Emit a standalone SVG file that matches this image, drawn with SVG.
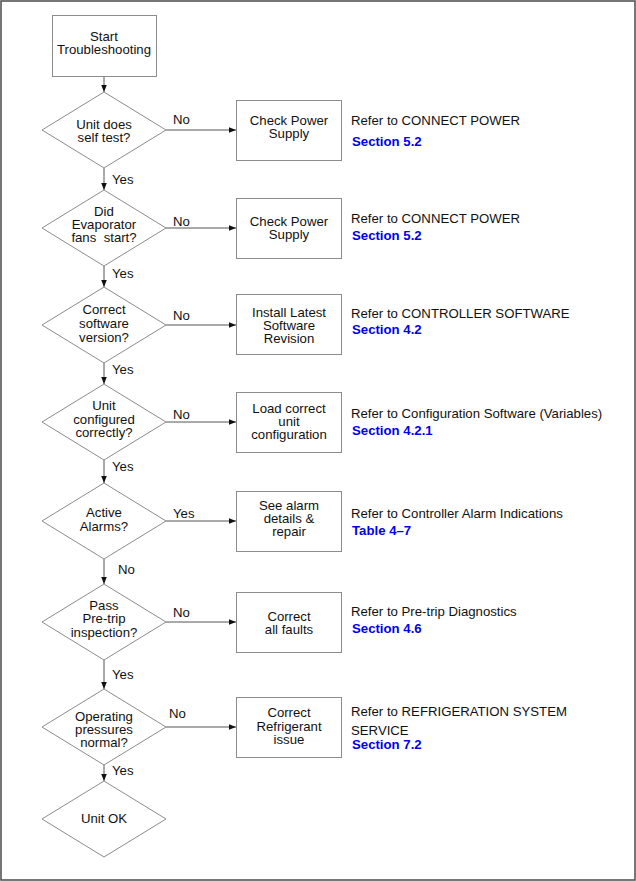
<svg xmlns="http://www.w3.org/2000/svg" width="636" height="881" viewBox="0 0 636 881">
<defs>
<style>
.shape{fill:#fff;stroke:#8c8c8c;stroke-width:1}
.conn{fill:none;stroke:#555;stroke-width:1}
text{font-family:"Liberation Sans",Arial,sans-serif;font-size:13.2px;fill:#111}
.c{text-anchor:middle}
.ref{fill:#0000f0;font-weight:bold}
</style>
<marker id="ah" viewBox="0 0 10 10" refX="10" refY="5" markerWidth="7" markerHeight="7" markerUnits="userSpaceOnUse" orient="auto">
<path d="M0,1 L10,5 L0,9 Z" fill="#111"/>
</marker>
</defs>
<rect x="0" y="0" width="636" height="881" fill="#fff"/>
<rect x="1" y="1" width="634" height="879" fill="none" stroke="#555" stroke-width="1.6"/>

<g id="connectors">
<line class="conn" x1="104" y1="76" x2="104" y2="92" marker-end="url(#ah)"/>
<line class="conn" x1="104" y1="168" x2="104" y2="190" marker-end="url(#ah)"/>
<line class="conn" x1="104" y1="266" x2="104" y2="287" marker-end="url(#ah)"/>
<line class="conn" x1="104" y1="363" x2="104" y2="384" marker-end="url(#ah)"/>
<line class="conn" x1="104" y1="460" x2="104" y2="483" marker-end="url(#ah)"/>
<line class="conn" x1="104" y1="559" x2="104" y2="584" marker-end="url(#ah)"/>
<line class="conn" x1="104" y1="660" x2="104" y2="689" marker-end="url(#ah)"/>
<line class="conn" x1="104" y1="765" x2="104" y2="781" marker-end="url(#ah)"/>
<line class="conn" x1="166" y1="130" x2="236" y2="130" marker-end="url(#ah)"/>
<line class="conn" x1="166" y1="228" x2="236" y2="228" marker-end="url(#ah)"/>
<line class="conn" x1="166" y1="325" x2="236" y2="325" marker-end="url(#ah)"/>
<line class="conn" x1="166" y1="422" x2="236" y2="422" marker-end="url(#ah)"/>
<line class="conn" x1="166" y1="521" x2="236" y2="521" marker-end="url(#ah)"/>
<line class="conn" x1="166" y1="622" x2="236" y2="622" marker-end="url(#ah)"/>
<line class="conn" x1="166" y1="727" x2="236" y2="727" marker-end="url(#ah)"/>
<text x="173" y="124">No</text>
<text x="173" y="226">No</text>
<text x="173" y="320">No</text>
<text x="173" y="419">No</text>
<text x="173" y="518">Yes</text>
<text x="173" y="617">No</text>
<text x="169" y="718">No</text>
<text x="112" y="184">Yes</text>
<text x="112" y="278">Yes</text>
<text x="112" y="374">Yes</text>
<text x="112" y="471">Yes</text>
<text x="118" y="574">No</text>
<text x="112" y="679">Yes</text>
<text x="112" y="775">Yes</text>
</g>

<g id="start">
<rect class="shape" x="52.5" y="15.5" width="104" height="61"/>
<text class="c" x="104" y="41">Start</text>
<text class="c" x="104" y="54">Troubleshooting</text>
</g>

<g id="d1">
<polygon class="shape" points="104,92 166,130 104,168 42,130"/>
<text class="c" x="104" y="129">Unit does</text>
<text class="c" x="104" y="142">self test?</text>
</g>
<g id="d2">
<polygon class="shape" points="104,190 166,228 104,266 42,228"/>
<text class="c" x="104" y="216">Did</text>
<text class="c" x="104" y="229">Evaporator</text>
<text class="c" x="104" y="242" xml:space="preserve">fans  start?</text>
</g>
<g id="d3">
<polygon class="shape" points="104,287 166,325 104,363 42,325"/>
<text class="c" x="104" y="314">Correct</text>
<text class="c" x="104" y="328">software</text>
<text class="c" x="104" y="342">version?</text>
</g>
<g id="d4">
<polygon class="shape" points="104,384 166,422 104,460 42,422"/>
<text class="c" x="104" y="410">Unit</text>
<text class="c" x="104" y="424">configured</text>
<text class="c" x="104" y="437">correctly?</text>
</g>
<g id="d5">
<polygon class="shape" points="104,483 166,521 104,559 42,521"/>
<text class="c" x="104" y="517">Active</text>
<text class="c" x="104" y="531">Alarms?</text>
</g>
<g id="d6">
<polygon class="shape" points="104,584 166,622 104,660 42,622"/>
<text class="c" x="104" y="610">Pass</text>
<text class="c" x="104" y="623">Pre-trip</text>
<text class="c" x="104" y="637">inspection?</text>
</g>
<g id="d7">
<polygon class="shape" points="104,689 166,727 104,765 42,727"/>
<text class="c" x="104" y="721">Operating</text>
<text class="c" x="104" y="734">pressures</text>
<text class="c" x="104" y="747">normal?</text>
</g>
<g id="d8">
<polygon class="shape" points="104,781 166,819 104,857 42,819"/>
<text class="c" x="104" y="823">Unit OK</text>
</g>

<g id="b1">
<rect class="shape" x="236.5" y="100.5" width="105" height="60"/>
<text class="c" x="289" y="125">Check Power</text>
<text class="c" x="289" y="138">Supply</text>
</g>
<g id="b2">
<rect class="shape" x="236.5" y="198.5" width="105" height="60"/>
<text class="c" x="289" y="226">Check Power</text>
<text class="c" x="289" y="239">Supply</text>
</g>
<g id="b3">
<rect class="shape" x="236.5" y="294.5" width="105" height="60"/>
<text class="c" x="289" y="317">Install Latest</text>
<text class="c" x="289" y="330">Software</text>
<text class="c" x="289" y="343">Revision</text>
</g>
<g id="b4">
<rect class="shape" x="236.5" y="392.5" width="105" height="60"/>
<text class="c" x="289" y="413">Load correct</text>
<text class="c" x="289" y="426">unit</text>
<text class="c" x="289" y="439">configuration</text>
</g>
<g id="b5">
<rect class="shape" x="236.5" y="491.5" width="105" height="60"/>
<text class="c" x="289" y="510">See alarm</text>
<text class="c" x="289" y="523">details &amp;</text>
<text class="c" x="289" y="536">repair</text>
</g>
<g id="b6">
<rect class="shape" x="236.5" y="592.5" width="105" height="60"/>
<text class="c" x="289" y="621">Correct</text>
<text class="c" x="289" y="634">all faults</text>
</g>
<g id="b7">
<rect class="shape" x="236.5" y="697.5" width="105" height="60"/>
<text class="c" x="289" y="717">Correct</text>
<text class="c" x="289" y="731">Refrigerant</text>
<text class="c" x="289" y="744">issue</text>
</g>

<g id="refs">
<text x="351" y="125">Refer to CONNECT POWER</text>
<text class="ref" x="352" y="146">Section 5.2</text>
<text x="351" y="223">Refer to CONNECT POWER</text>
<text class="ref" x="352" y="240">Section 5.2</text>
<text x="351" y="318">Refer to CONTROLLER SOFTWARE</text>
<text class="ref" x="352" y="334">Section 4.2</text>
<text x="351" y="418">Refer to Configuration Software (Variables)</text>
<text class="ref" x="352" y="435">Section 4.2.1</text>
<text x="351" y="518">Refer to Controller Alarm Indications</text>
<text class="ref" x="352" y="535">Table 4–7</text>
<text x="351" y="616">Refer to Pre-trip Diagnostics</text>
<text class="ref" x="352" y="633">Section 4.6</text>
<text x="351" y="716">Refer to REFRIGERATION SYSTEM</text>
<text x="351" y="735">SERVICE</text>
<text class="ref" x="352" y="749">Section 7.2</text>
</g>
</svg>
